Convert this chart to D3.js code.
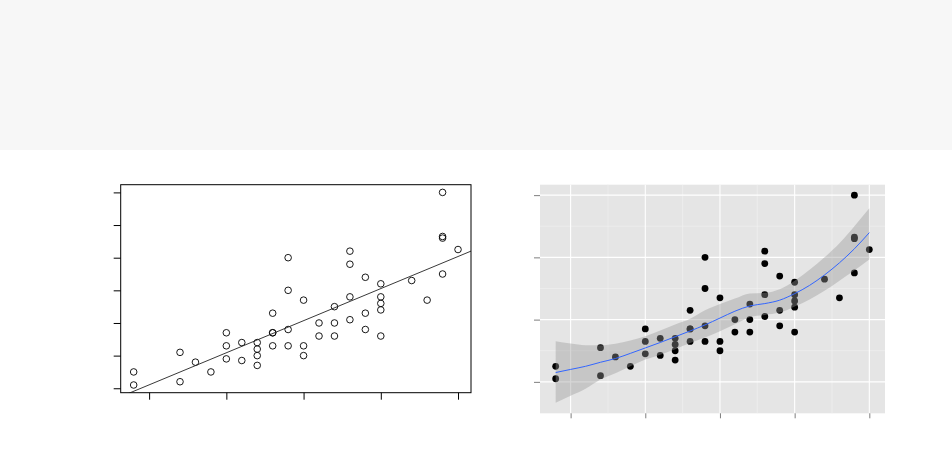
<!DOCTYPE html>
<html>
<head>
<meta charset="utf-8">
<script src="https://cdn.jsdelivr.net/npm/d3@7"></script>
<style>
  html, body { margin: 0; padding: 0; background: #ffffff; }
  svg { display: block; }
</style>
</head>
<body>
<svg id="chart" width="952" height="465"></svg>
<script>
// ---- data (cars: speed vs stopping distance) ----
const speed = [4,4,7,7,8,9,10,10,10,11,11,12,12,12,12,13,13,13,13,14,14,14,14,15,15,15,16,16,17,17,17,18,18,18,18,19,19,19,20,20,20,20,20,22,23,24,24,24,24,25];
const dist  = [2,10,4,22,16,10,18,26,34,17,28,14,20,24,28,26,34,34,46,26,36,60,80,20,26,54,32,40,32,40,50,42,56,76,84,36,46,68,32,48,52,56,64,66,54,70,92,93,120,85];

// straight fitted line (left panel), read at the panel's x limits
const regX = [3.16, 25.84];
const regY = [-5.15, 84.03];

// smooth curve with confidence band (right panel)
const smoothX  = [4, 5, 6, 7, 8, 9, 10, 11, 12, 13, 14, 15, 16, 17, 18, 19, 20, 21, 22, 23, 24, 25];
const smoothY  = [6.0, 8.0, 10.0, 12.6, 15.0, 18.3, 21.8, 25.3, 29.0, 32.7, 36.6, 41.0, 45.4, 48.8, 50.3, 52.5, 56.7, 62.0, 68.7, 76.5, 85.5, 95.9];
const smoothLo = [-13.5, -9.0, -4.5, 1.5, 5.5, 10.0, 14.3, 17.5, 21.0, 25.0, 28.5, 32.5, 37.0, 41.5, 43.0, 44.5, 48.5, 53.0, 58.5, 65.0, 71.5, 78.6];
const smoothHi = [26.1, 24.6, 23.5, 23.5, 24.5, 26.6, 29.3, 33.0, 36.8, 40.5, 46.0, 50.0, 53.5, 56.8, 57.2, 59.5, 65.0, 72.0, 80.0, 89.0, 100.0, 111.5];

// tick values
const xTicks = [5, 10, 15, 20, 25];
const yTicksLeft = [0, 20, 40, 60, 80, 100, 120];
const yMajorRight = [0, 40, 80, 120];
const yMinorRight = [20, 60, 100];
const xMinorRight = [7.5, 12.5, 17.5, 22.5];

const svg = d3.select("#chart");

// top band
svg.append("rect").attr("x", 0).attr("y", 0).attr("width", 952).attr("height", 150).attr("fill", "#f7f7f7");

// ================= LEFT PANEL (base-graphics look) =================
const L = { left: 120.7, right: 471, top: 184.7, bottom: 392.7 };
const xL = d3.scaleLinear().domain([3.16, 25.84]).range([L.left, L.right]);
const yL = d3.scaleLinear().domain([-2.72, 124.72]).range([L.bottom, L.top]);

const gL = svg.append("g");
gL.append("clipPath").attr("id", "clipL").append("rect")
  .attr("x", L.left).attr("y", L.top).attr("width", L.right - L.left).attr("height", L.bottom - L.top);

// points
gL.append("g").selectAll("circle").data(speed.map((s, i) => [s, dist[i]])).join("circle")
  .attr("cx", d => xL(d[0])).attr("cy", d => yL(d[1])).attr("r", 3.3)
  .attr("fill", "none").attr("stroke", "#000").attr("stroke-width", 0.9);

// fitted line
gL.append("path")
  .datum(regX.map((x, i) => [x, regY[i]]))
  .attr("clip-path", "url(#clipL)")
  .attr("d", d3.line().x(d => xL(d[0])).y(d => yL(d[1])))
  .attr("fill", "none").attr("stroke", "#222").attr("stroke-width", 0.9);

// box
gL.append("rect").attr("x", L.left).attr("y", L.top).attr("width", L.right - L.left).attr("height", L.bottom - L.top)
  .attr("fill", "none").attr("stroke", "#000").attr("stroke-width", 1);

// axes (ticks only, no labels)
const axXL = d3.axisBottom(xL).tickValues(xTicks).tickSize(7).tickFormat("");
const gAxXL = gL.append("g").attr("transform", `translate(0,${L.bottom})`).call(axXL);
gAxXL.select(".domain").remove();
gAxXL.selectAll("line").attr("stroke", "#000").attr("stroke-width", 1);

const axYL = d3.axisLeft(yL).tickValues(yTicksLeft).tickSize(7).tickFormat("");
const gAxYL = gL.append("g").attr("transform", `translate(${L.left},0)`).call(axYL);
gAxYL.select(".domain").remove();
gAxYL.selectAll("line").attr("stroke", "#000").attr("stroke-width", 1);

// ================= RIGHT PANEL (ggplot look) =================
const R = { left: 540, right: 885, top: 184.7, bottom: 413.3 };
const xR = d3.scaleLinear().domain([2.95, 26.05]).range([R.left, R.right]);
const yR = d3.scaleLinear().domain([-20.2, 126.7]).range([R.bottom, R.top]);

const gR = svg.append("g");
gR.append("rect").attr("x", R.left).attr("y", R.top).attr("width", R.right - R.left).attr("height", R.bottom - R.top)
  .attr("fill", "#e5e5e5");

// minor grid
gR.append("g").selectAll("line.vmin").data(xMinorRight).join("line")
  .attr("x1", d => xR(d)).attr("x2", d => xR(d)).attr("y1", R.top).attr("y2", R.bottom)
  .attr("stroke", "#f2f2f2").attr("stroke-width", 0.6);
gR.append("g").selectAll("line.hmin").data(yMinorRight).join("line")
  .attr("y1", d => yR(d)).attr("y2", d => yR(d)).attr("x1", R.left).attr("x2", R.right)
  .attr("stroke", "#f2f2f2").attr("stroke-width", 0.6);
// major grid
gR.append("g").selectAll("line.vmaj").data(xTicks).join("line")
  .attr("x1", d => xR(d)).attr("x2", d => xR(d)).attr("y1", R.top).attr("y2", R.bottom)
  .attr("stroke", "#ffffff").attr("stroke-width", 1.1);
gR.append("g").selectAll("line.hmaj").data(yMajorRight).join("line")
  .attr("y1", d => yR(d)).attr("y2", d => yR(d)).attr("x1", R.left).attr("x2", R.right)
  .attr("stroke", "#ffffff").attr("stroke-width", 1.1);

// points
gR.append("g").selectAll("circle").data(speed.map((s, i) => [s, dist[i]])).join("circle")
  .attr("cx", d => xR(d[0])).attr("cy", d => yR(d[1])).attr("r", 3.4)
  .attr("fill", "#000");

// confidence ribbon (drawn over points)
const band = smoothX.map((x, i) => ({ x, lo: smoothLo[i], hi: smoothHi[i], y: smoothY[i] }));
gR.append("path").datum(band)
  .attr("d", d3.area().curve(d3.curveMonotoneX).x(d => xR(d.x)).y0(d => yR(d.lo)).y1(d => yR(d.hi)))
  .attr("fill", "#999999").attr("fill-opacity", 0.4);

// smooth line
gR.append("path").datum(band)
  .attr("d", d3.line().curve(d3.curveMonotoneX).x(d => xR(d.x)).y(d => yR(d.y)))
  .attr("fill", "none").attr("stroke", "#3366ff").attr("stroke-width", 1);

// axes ticks (no labels)
const axXR = d3.axisBottom(xR).tickValues(xTicks).tickSize(5).tickFormat("");
const gAxXR = gR.append("g").attr("transform", `translate(0,${R.bottom})`).call(axXR);
gAxXR.select(".domain").remove();
gAxXR.selectAll("line").attr("stroke", "#7f7f7f").attr("stroke-width", 1);

const axYR = d3.axisLeft(yR).tickValues(yMajorRight).tickSize(6).tickFormat("");
const gAxYR = gR.append("g").attr("transform", `translate(${R.left},0)`).call(axYR);
gAxYR.select(".domain").remove();
gAxYR.selectAll("line").attr("stroke", "#7f7f7f").attr("stroke-width", 1);
</script>
</body>
</html>
